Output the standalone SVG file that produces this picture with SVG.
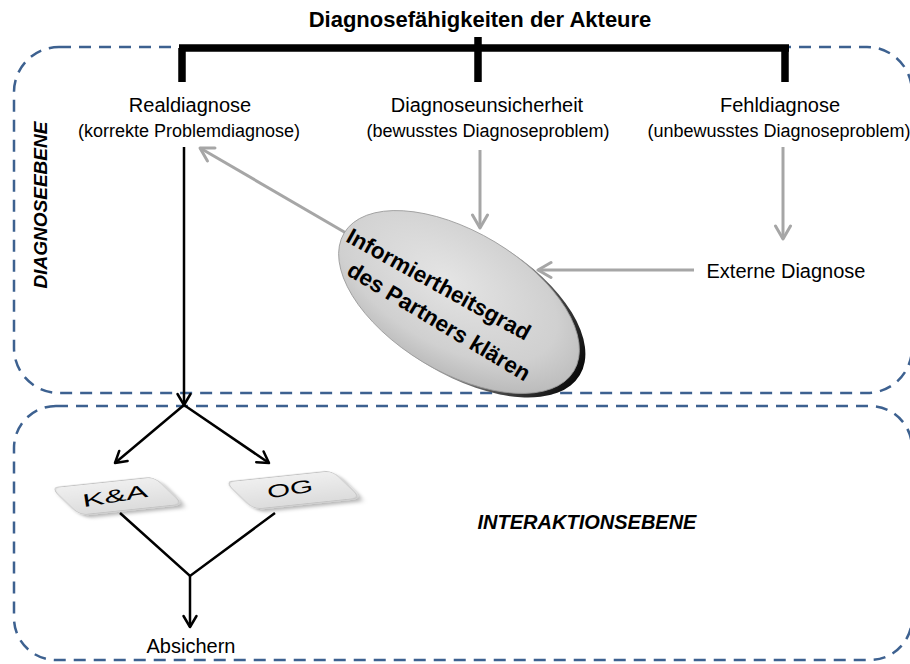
<svg xmlns="http://www.w3.org/2000/svg" width="910" height="664" viewBox="0 0 910 664">
<defs>
<style>
.dash{fill:none;stroke:#3d6190;stroke-width:2.5;stroke-dasharray:12 8}
.t{font-family:"Liberation Sans",Arial,sans-serif;fill:#000}
.b{font-weight:bold}
.bi{font-weight:bold;font-style:italic}
.blk{stroke:#000;stroke-width:2.5;fill:none}
.gry{stroke:#a6a6a6;stroke-width:3;fill:none}
.box{fill:url(#boxg);stroke:#c4c4c4;stroke-width:1}
</style>
<marker id="ab" viewBox="-14 -9 16 18" refX="0" refY="0" markerWidth="16" markerHeight="18" markerUnits="userSpaceOnUse" orient="auto">
<path d="M-11,-6.5 L0,0 L-11,6.5" fill="none" stroke="#000" stroke-width="2.5" stroke-linecap="round" stroke-linejoin="round"/>
</marker>
<marker id="ag" viewBox="-16 -10 18 20" refX="0" refY="0" markerWidth="18" markerHeight="20" markerUnits="userSpaceOnUse" orient="auto">
<path d="M-13,-7.5 L0,0 L-13,7.5" fill="none" stroke="#a6a6a6" stroke-width="3" stroke-linecap="round" stroke-linejoin="round"/>
</marker>
<linearGradient id="boxg" x1="0" y1="0" x2="0" y2="1">
<stop offset="0" stop-color="#efefef"/>
<stop offset="1" stop-color="#dcdcdc"/>
</linearGradient>
<linearGradient id="rim" x1="0" y1="0.5" x2="1" y2="0.5">
<stop offset="0" stop-color="#dcdcdc"/>
<stop offset="0.5" stop-color="#a8a8a8"/>
<stop offset="0.8" stop-color="#404040"/>
<stop offset="1" stop-color="#0a0a0a"/>
</linearGradient>
<radialGradient id="face" cx="0.42" cy="0.4" r="0.7">
<stop offset="0" stop-color="#e4e4e4"/>
<stop offset="0.65" stop-color="#d0d0d0"/>
<stop offset="1" stop-color="#b2b2b2"/>
</radialGradient>
<filter id="sh" x="-30%" y="-40%" width="160%" height="190%">
<feGaussianBlur in="SourceAlpha" stdDeviation="2"/>
<feOffset dx="1" dy="3" result="bl"/>
<feFlood flood-color="#000" flood-opacity="0.3"/>
<feComposite in2="bl" operator="in"/>
<feMerge><feMergeNode/><feMergeNode in="SourceGraphic"/></feMerge>
</filter>
</defs>

<g id="diagnoseebene">
<rect class="dash" x="14" y="47" width="898" height="346" rx="45"/>
<text class="t bi" font-size="19" text-anchor="middle" transform="translate(47,205) rotate(-90)">DIAGNOSEEBENE</text>
</g>

<g id="interaktionsebene">
<rect class="dash" x="14" y="406" width="898" height="254" rx="42"/>
<text class="t bi" font-size="20" x="587" y="529" text-anchor="middle">INTERAKTIONSEBENE</text>
</g>

<g id="title">
<text class="t b" font-size="22" x="480" y="27" text-anchor="middle">Diagnosefähigkeiten der Akteure</text>
</g>

<g id="connectors">
<path d="M179,48 H789 M182,48 V82 M478,37 V82 M785,48 V82" stroke="#000" stroke-width="7.5" fill="none"/>
<line class="blk" x1="184" y1="147" x2="184" y2="405" marker-end="url(#ab)"/>
<line class="blk" x1="184" y1="405" x2="115" y2="463" marker-end="url(#ab)"/>
<line class="blk" x1="184" y1="405" x2="269" y2="463" marker-end="url(#ab)"/>
<polyline class="blk" points="120,513 190,576 275,513"/>
<line class="blk" x1="190" y1="576" x2="190" y2="627" marker-end="url(#ab)"/>
<line class="gry" x1="346" y1="233" x2="200" y2="148" marker-end="url(#ag)"/>
<line class="gry" x1="480" y1="150" x2="480" y2="228" marker-end="url(#ag)"/>
<line class="gry" x1="783" y1="147" x2="783" y2="239" marker-end="url(#ag)"/>
<line class="gry" x1="694" y1="270" x2="538" y2="270" marker-end="url(#ag)"/>
</g>

<g id="realdiagnose">
<text class="t" font-size="20" x="190" y="112" text-anchor="middle">Realdiagnose</text>
<text class="t" font-size="18" x="189" y="137" text-anchor="middle">(korrekte Problemdiagnose)</text>
</g>

<g id="diagnoseunsicherheit">
<text class="t" font-size="20" x="487" y="112" text-anchor="middle">Diagnoseunsicherheit</text>
<text class="t" font-size="18" x="488" y="137" text-anchor="middle">(bewusstes Diagnoseproblem)</text>
</g>

<g id="fehldiagnose">
<text class="t" font-size="20" x="780" y="112" text-anchor="middle">Fehldiagnose</text>
<text class="t" font-size="18" x="779" y="137" text-anchor="middle">(unbewusstes Diagnoseproblem)</text>
</g>

<g id="externe-diagnose">
<text class="t" font-size="20" x="786" y="278" text-anchor="middle">Externe Diagnose</text>
</g>

<g id="informiertheitsgrad">
<g transform="translate(6,4)">
<ellipse cx="459" cy="302" rx="134" ry="70" fill="url(#rim)" transform="rotate(31 459 302)"/>
</g>
<ellipse cx="459" cy="302" rx="134" ry="70" fill="url(#face)" stroke="#9a9a9a" stroke-width="0.8" transform="rotate(31 459 302)"/>
<text class="t b" font-size="22.5" fill="#111" text-anchor="middle" transform="translate(435,291) rotate(29)">Informiertheitsgrad</text>
<text class="t b" font-size="22.5" fill="#111" text-anchor="middle" transform="translate(435,328) rotate(31)">des Partners klären</text>
</g>

<g id="ka">
<g transform="translate(117,496) rotate(-6) skewX(40)">
<rect class="box" x="-52" y="-15" width="104" height="30" rx="7" filter="url(#sh)"/>
</g>
<text class="t" font-size="18" fill="#1a1a1a" text-anchor="middle" textLength="66" lengthAdjust="spacingAndGlyphs" transform="translate(116,502) rotate(-9)">K&amp;A</text>
</g>

<g id="og">
<g transform="translate(293,490) rotate(-6) skewX(40)">
<rect class="box" x="-54" y="-15" width="108" height="30" rx="7" filter="url(#sh)"/>
</g>
<text class="t" font-size="18" fill="#1a1a1a" text-anchor="middle" textLength="46" lengthAdjust="spacingAndGlyphs" transform="translate(291,495) rotate(-9)">OG</text>
</g>

<g id="absichern">
<text class="t" font-size="20" x="191" y="653" text-anchor="middle">Absichern</text>
</g>
</svg>
